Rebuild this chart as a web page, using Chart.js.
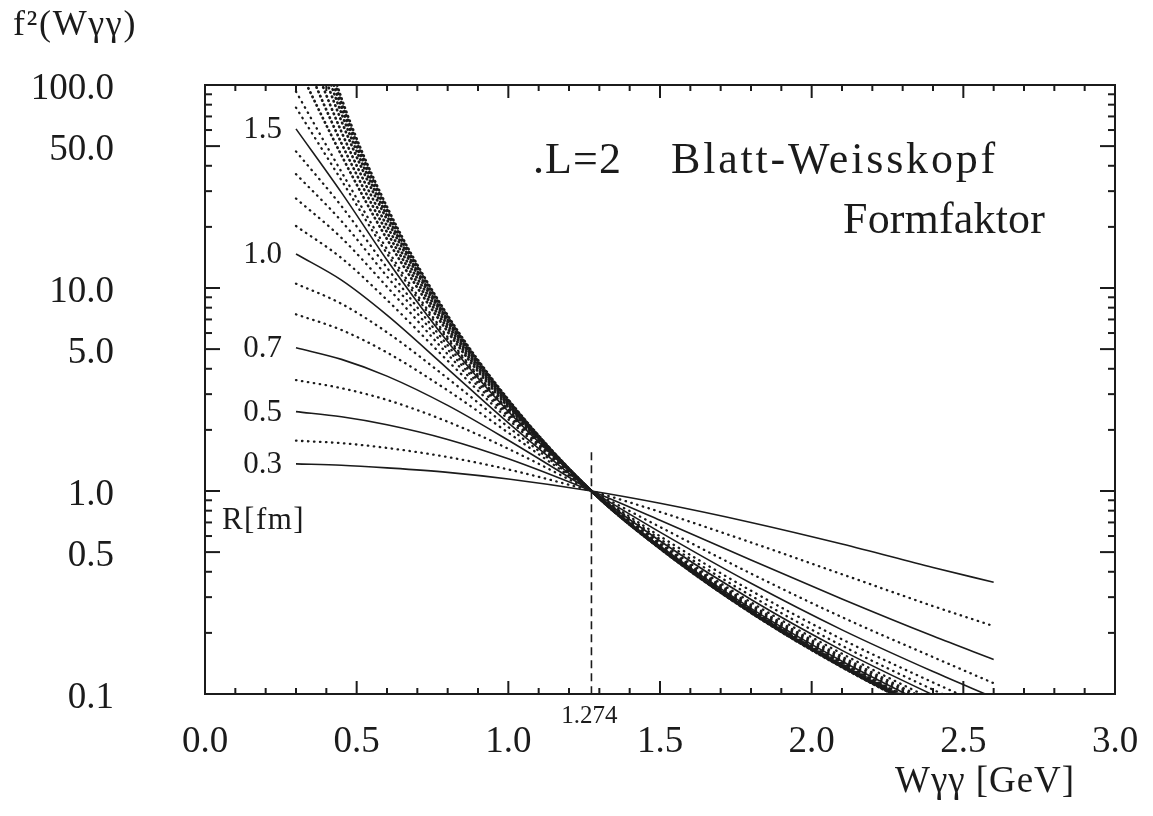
<!DOCTYPE html>
<html>
<head>
<meta charset="utf-8">
<title>f²(Wγγ) – L=2 Blatt-Weisskopf Formfaktor</title>
<script src="https://cdn.jsdelivr.net/npm/chart.js@4.4.1/dist/chart.umd.min.js"></script>
<style>
  html, body { margin: 0; padding: 0; background: #fff; }
  #wrap { width: 1153px; height: 816px; position: relative; }
</style>
</head>
<body>
<div id="wrap"><canvas id="formfactorChart"></canvas></div>
<script>
const wGeV = [0.3, 0.45, 0.6, 0.8, 1.0, 1.274, 1.5, 1.8, 2.1, 2.4, 2.6];

// f^2(W) for each radius R [fm]
const fR03 = [1.36, 1.34, 1.30, 1.235, 1.145, 1, 0.870, 0.700, 0.548, 0.420, 0.355];
const fR04 = [1.77, 1.72, 1.63, 1.47, 1.277, 1, 0.789, 0.558, 0.389, 0.271, 0.216];
const fR05 = [2.46, 2.32, 2.12, 1.795, 1.44, 1, 0.718, 0.457, 0.294, 0.193, 0.148];
const fR06 = [3.52, 3.21, 2.81, 2.195, 1.614, 1, 0.665, 0.392, 0.239, 0.152, 0.113];
const fR07 = [5.08, 4.45, 3.68, 2.64, 1.778, 1, 0.627, 0.351, 0.207, 0.129, 0.096];
const fR08 = [7.42, 6.21, 4.81, 3.13, 1.936, 1, 0.599, 0.323, 0.186, 0.114, 0.084];
const fR09 = [10.5, 8.36, 6.05, 3.59, 2.065, 1, 0.580, 0.305, 0.173, 0.105, 0.077];
const fR10 = [14.7, 10.93, 7.35, 4.00, 2.168, 1, 0.567, 0.292, 0.164, 0.099, 0.0725];
const fR11 = [20.2, 14.04, 8.73, 4.38, 2.255, 1, 0.557, 0.283, 0.158, 0.094, 0.069];
const fR12 = [27.6, 17.65, 10.14, 4.72, 2.326, 1, 0.549, 0.276, 0.153, 0.091, 0.067];
const fR13 = [36.4, 21.35, 11.40, 4.99, 2.38, 1, 0.544, 0.272, 0.150, 0.089, 0.065];
const fR14 = [47.1, 25.3, 12.58, 5.22, 2.425, 1, 0.540, 0.268, 0.147, 0.087, 0.064];
const fR15 = [60.8, 29.5, 13.73, 5.43, 2.463, 1, 0.536, 0.264, 0.145, 0.086, 0.062];
const fR16 = [77.4, 33.9, 14.78, 5.61, 2.495, 1, 0.533, 0.262, 0.143, 0.084, 0.0615];
const fR17 = [92.8, 37.3, 15.54, 5.73, 2.516, 1, 0.531, 0.260, 0.142, 0.0835, 0.061];
// dense dotted bundle close to the large-R limit
const fB1 = [128.5, 45.0, 17.41, 6.09, 2.589, 1, 0.529, 0.258, 0.140, 0.0826, 0.0602];
const fB2 = [167, 51.6, 18.82, 6.33, 2.636, 1, 0.527, 0.2565, 0.139, 0.0819, 0.0596];
const fB3 = [216, 58.7, 20.2, 6.57, 2.68, 1, 0.525, 0.255, 0.138, 0.0813, 0.0591];
const fB4 = [279, 66.3, 21.7, 6.80, 2.72, 1, 0.524, 0.254, 0.1374, 0.0807, 0.0587];
const fB5 = [338, 72.3, 22.7, 6.96, 2.75, 1, 0.5225, 0.2528, 0.1367, 0.0802, 0.0583];
const fB6 = [395, 77.6, 23.6, 7.10, 2.78, 1, 0.5215, 0.252, 0.1362, 0.0798, 0.058];
const fB7 = [443, 82.0, 24.4, 7.22, 2.80, 1, 0.521, 0.2514, 0.1358, 0.0796, 0.0578];
const fB8 = [488, 86.0, 25.1, 7.33, 2.82, 1, 0.5204, 0.251, 0.1355, 0.0794, 0.0577];

const solidLabels = ['0.3', '0.5', '0.7', '1.0', '1.5'];
const curveLabels = ['0.3', '0.4', '0.5', '0.6', '0.7', '0.8', '0.9', '1.0', '1.1', '1.2', '1.3', '1.4', '1.5', '1.6', '1.7',
  'b1', 'b2', 'b3', 'b4', 'b5', 'b6', 'b7', 'b8'];
const curveValues = [fR03, fR04, fR05, fR06, fR07, fR08, fR09, fR10, fR11, fR12, fR13, fR14, fR15, fR16, fR17,
  fB1, fB2, fB3, fB4, fB5, fB6, fB7, fB8];

const xTickValues = [0, 0.5, 1.0, 1.5, 2.0, 2.5, 3.0];
const yTickValues = [0.1, 0.5, 1, 5, 10, 50, 100];

// resonance mass marker
const massW = 1.274;
const massLineTop = 1.55;

const INK = '#1b1b1b';
const SERIF = "'Liberation Serif', 'Times New Roman', serif";

const datasets = curveValues.map((vals, i) => {
  const lab = curveLabels[i];
  const solid = solidLabels.includes(lab);
  const bundle = lab.startsWith('b');
  return {
    label: lab,
    data: wGeV.map((w, j) => ({ x: w, y: vals[j] })),
    borderColor: INK,
    borderWidth: solid ? 1.6 : (bundle ? 2.7 : 2.3),
    borderDash: solid ? [] : (bundle ? [0.5, 4.2] : [0.5, 5.5]),
    borderCapStyle: solid ? 'butt' : 'round',
    pointRadius: 0,
    cubicInterpolationMode: 'monotone',
    fill: false
  };
});
datasets.push({
  label: 'M',
  data: [{ x: massW, y: massLineTop }, { x: massW, y: 0.1 }],
  borderColor: INK,
  borderWidth: 1.6,
  borderDash: [8, 5],
  pointRadius: 0,
  fill: false
});

function fitText(ctx, str, x, y, width, font) {
  ctx.font = font;
  ctx.letterSpacing = '0px';
  const natural = ctx.measureText(str).width;
  ctx.letterSpacing = ((width - natural) / str.length) + 'px';
  ctx.fillText(str, x, y);
  ctx.letterSpacing = '0px';
}

const frameAndText = {
  id: 'frameAndText',
  beforeDraw(chart) {
    const ctx = chart.ctx;
    ctx.save();
    ctx.fillStyle = '#fff';
    ctx.fillRect(0, 0, chart.width, chart.height);
    ctx.restore();
  },
  afterDraw(chart) {
    const { ctx, chartArea: a, scales: { x, y } } = chart;
    ctx.save();
    ctx.strokeStyle = INK;
    ctx.lineWidth = 2;
    ctx.strokeRect(a.left, a.top, a.right - a.left, a.bottom - a.top);

    const seg = (x1, y1, x2, y2) => {
      ctx.beginPath(); ctx.moveTo(x1, y1); ctx.lineTo(x2, y2); ctx.stroke();
    };
    // x ticks on bottom and top, every 0.1
    for (let i = 0; i <= 30; i++) {
      const px = x.getPixelForValue(i / 10);
      const len = i % 5 === 0 ? 13 : 6;
      seg(px, a.bottom, px, a.bottom - len);
      seg(px, a.top, px, a.top + len);
    }
    // y ticks on left and right, 1..9 per decade
    for (let d = -1; d <= 1; d++) {
      for (let m = 1; m <= 9; m++) {
        const py = y.getPixelForValue(m * Math.pow(10, d));
        const len = (m === 1 || m === 5) ? 15 : 7;
        seg(a.left, py, a.left + len, py);
        seg(a.right, py, a.right - len, py);
      }
    }

    ctx.fillStyle = INK;
    ctx.textBaseline = 'alphabetic';
    ctx.textAlign = 'left';
    fitText(ctx, 'f²(Wγγ)', 13, 35, 124, '36px ' + SERIF);
    fitText(ctx, '.L=2', 533, 173, 89, '44px ' + SERIF);
    fitText(ctx, 'Blatt-Weisskopf', 671, 173, 327, '44px ' + SERIF);
    fitText(ctx, 'Formfaktor', 843, 233, 202, '44px ' + SERIF);
    fitText(ctx, 'Wγγ [GeV]', 895, 792, 180, '37px ' + SERIF);

    // small label for the mass position
    ctx.textBaseline = 'middle';
    ctx.textAlign = 'center';
    ctx.font = '25px ' + SERIF;
    ctx.fillText('1.274', x.getPixelForValue(massW) - 2, 716);

    // radius labels at the start of the solid curves
    ctx.textAlign = 'right';
    ctx.font = '31px ' + SERIF;
    curveLabels.forEach((lab, i) => {
      if (!solidLabels.includes(lab)) return;
      ctx.fillText(lab, x.getPixelForValue(wGeV[0]) - 14, y.getPixelForValue(curveValues[i][0]) + 1);
    });
    ctx.textAlign = 'left';
    fitText(ctx, 'R[fm]', 222, 521, 83, '31px ' + SERIF);
    ctx.restore();
  }
};

new Chart(document.getElementById('formfactorChart'), {
  type: 'line',
  data: { datasets },
  options: {
    responsive: true,
    maintainAspectRatio: false,
    animation: false,
    events: [],
    layout: { padding: { left: 0, right: 38, top: 85, bottom: 0 } },
    plugins: { legend: { display: false }, tooltip: { enabled: false } },
    scales: {
      x: {
        type: 'linear',
        min: 0,
        max: 3,
        afterBuildTicks: s => { s.ticks = xTickValues.map(v => ({ value: v })); },
        afterFit: s => { s.height = 816 - 694; s.paddingLeft = 0; s.paddingRight = 0; },
        grid: { display: false, drawTicks: false },
        border: { display: false },
        ticks: {
          callback: v => v.toFixed(1),
          font: { family: SERIF, size: 37 },
          color: INK,
          padding: 26,
          maxRotation: 0,
          autoSkip: false
        }
      },
      y: {
        type: 'logarithmic',
        min: 0.1,
        max: 100,
        afterBuildTicks: s => { s.ticks = yTickValues.map(v => ({ value: v })); },
        afterFit: s => { s.width = 205; s.paddingTop = 0; s.paddingBottom = 0; },
        grid: { display: false, drawTicks: false },
        border: { display: false },
        ticks: {
          callback: v => Number(v).toFixed(1),
          font: { family: SERIF, size: 37 },
          color: INK,
          padding: 91,
          labelOffset: 4,
          autoSkip: false
        }
      }
    }
  },
  plugins: [frameAndText]
});
</script>
</body>
</html>
